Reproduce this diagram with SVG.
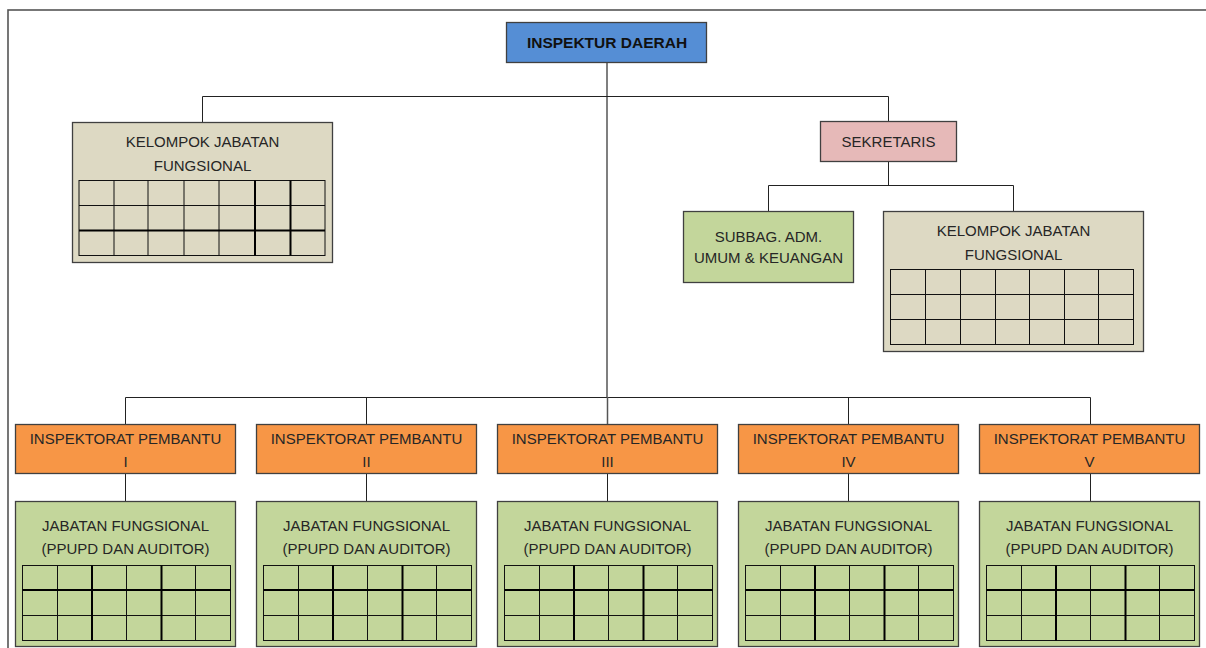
<svg xmlns="http://www.w3.org/2000/svg" xmlns:xlink="http://www.w3.org/1999/xlink" width="1206" height="648" viewBox="0 0 1206 648">
<style>
.t{font-family:"Liberation Sans",Arial,sans-serif;font-size:15px;fill:#262626;text-anchor:middle}
.b{font-weight:bold;font-size:15.5px;fill:#111}
.box{stroke:#404040;stroke-width:1.3}
.blue{fill:#558ed5}
.pink{fill:#e6b9b8}
.tan{fill:#ddd9c3}
.green{fill:#c3d69b}
.orange{fill:#f79646}
.grid{fill:none;stroke:#111;stroke-width:1}
.gridk{fill:none;stroke:#000;stroke-width:2}
.con{fill:none;stroke:#222;stroke-width:1}
.main{fill:none;stroke:#555;stroke-width:1.5}
</style>
<defs>
<g id="ggrid">
<rect class="grid" x="7.5" y="565.5" width="208" height="75"/>
<path class="grid" d="M42.5 565.5V640.5M111.5 565.5V640.5M180.5 565.5V640.5M7.5 615.5H215.5"/>
<path class="gridk" d="M77 565.5V640.5M146.5 565.5V640.5M7.5 590H215.5"/>
</g>
</defs>
<rect width="1206" height="648" fill="#fff"/>
<rect x="8" y="10" width="1300" height="700" fill="none" stroke="#555" stroke-width="1.6"/>

<g id="connectors">
<path class="main" d="M607 62V397"/>
<path class="con" d="M202.5 122V96.5H888.5V121"/>
<path class="con" d="M888.5 161V185.5"/>
<path class="con" d="M768.5 211V185.5H1013.5V211"/>
<path class="con" d="M125.5 424V397.5H1090.5V424"/>
<path class="con" d="M366.5 397.5V424M848.5 397.5V424"/>
<path class="main" d="M607.5 397V424"/>
<path class="con" d="M125.5 474V501M366.5 474V501M607.5 474V501M848.5 474V501M1090.5 474V501"/>
</g>

<g id="inspektur">
<rect class="box blue" x="506.5" y="22.5" width="200" height="40"/>
<text class="t b" x="607" y="48">INSPEKTUR DAERAH</text>
</g>

<g id="kelompok-kiri">
<rect class="box tan" x="72.5" y="122.5" width="260" height="140"/>
<text class="t" x="202.5" y="147">KELOMPOK JABATAN</text>
<text class="t" x="202.5" y="171">FUNGSIONAL</text>
<rect class="grid" x="79" y="180.5" width="246" height="75"/>
<path class="grid" d="M114 180.5V255.5M148 180.5V255.5M184 180.5V255.5M219 180.5V255.5M79 205.5H325"/>
<path class="gridk" d="M255 180.5V255.5M290.5 180.5V255.5M79 230.5H325"/>
</g>

<g id="sekretaris">
<rect class="box pink" x="820.5" y="121.5" width="136" height="40"/>
<text class="t" x="888.5" y="147">SEKRETARIS</text>
</g>

<g id="subbag">
<rect class="box green" x="683.5" y="211.5" width="170" height="71"/>
<text class="t" x="768.5" y="241.5">SUBBAG. ADM.</text>
<text class="t" x="768.5" y="263">UMUM &amp; KEUANGAN</text>
</g>

<g id="kelompok-kanan">
<rect class="box tan" x="883.5" y="211.5" width="260" height="140"/>
<text class="t" x="1013.5" y="236">KELOMPOK JABATAN</text>
<text class="t" x="1013.5" y="260">FUNGSIONAL</text>
<rect class="grid" x="890.5" y="269.5" width="243" height="75"/>
<path class="grid" d="M925.5 269.5V344.5M960.5 269.5V344.5M995.5 269.5V344.5M1029.5 269.5V344.5M1064.5 269.5V344.5M1098.5 269.5V344.5M890.5 294.5H1133.5M890.5 319.5H1133.5"/>
</g>

<g id="irban-1" transform="translate(15,0)">
<rect class="box orange" x="0.5" y="424.5" width="220" height="49"/>
<text class="t" x="110.5" y="444">INSPEKTORAT PEMBANTU</text>
<text class="t" x="110.5" y="466.5">I</text>
</g>
<g id="jf-1" transform="translate(15,0)">
<rect class="box green" x="0.5" y="501.5" width="220" height="145"/>
<text class="t" x="110.5" y="531">JABATAN FUNGSIONAL</text>
<text class="t" x="110.5" y="554">(PPUPD DAN AUDITOR)</text>
<use xlink:href="#ggrid"/>
</g>

<g id="irban-2" transform="translate(256,0)">
<rect class="box orange" x="0.5" y="424.5" width="220" height="49"/>
<text class="t" x="110.5" y="444">INSPEKTORAT PEMBANTU</text>
<text class="t" x="110.5" y="466.5">II</text>
</g>
<g id="jf-2" transform="translate(256,0)">
<rect class="box green" x="0.5" y="501.5" width="220" height="145"/>
<text class="t" x="110.5" y="531">JABATAN FUNGSIONAL</text>
<text class="t" x="110.5" y="554">(PPUPD DAN AUDITOR)</text>
<use xlink:href="#ggrid"/>
</g>

<g id="irban-3" transform="translate(497,0)">
<rect class="box orange" x="0.5" y="424.5" width="220" height="49"/>
<text class="t" x="110.5" y="444">INSPEKTORAT PEMBANTU</text>
<text class="t" x="110.5" y="466.5">III</text>
</g>
<g id="jf-3" transform="translate(497,0)">
<rect class="box green" x="0.5" y="501.5" width="220" height="145"/>
<text class="t" x="110.5" y="531">JABATAN FUNGSIONAL</text>
<text class="t" x="110.5" y="554">(PPUPD DAN AUDITOR)</text>
<use xlink:href="#ggrid"/>
</g>

<g id="irban-4" transform="translate(738,0)">
<rect class="box orange" x="0.5" y="424.5" width="220" height="49"/>
<text class="t" x="110.5" y="444">INSPEKTORAT PEMBANTU</text>
<text class="t" x="110.5" y="466.5">IV</text>
</g>
<g id="jf-4" transform="translate(738,0)">
<rect class="box green" x="0.5" y="501.5" width="220" height="145"/>
<text class="t" x="110.5" y="531">JABATAN FUNGSIONAL</text>
<text class="t" x="110.5" y="554">(PPUPD DAN AUDITOR)</text>
<use xlink:href="#ggrid"/>
</g>

<g id="irban-5" transform="translate(979,0)">
<rect class="box orange" x="0.5" y="424.5" width="220" height="49"/>
<text class="t" x="110.5" y="444">INSPEKTORAT PEMBANTU</text>
<text class="t" x="110.5" y="466.5">V</text>
</g>
<g id="jf-5" transform="translate(979,0)">
<rect class="box green" x="0.5" y="501.5" width="220" height="145"/>
<text class="t" x="110.5" y="531">JABATAN FUNGSIONAL</text>
<text class="t" x="110.5" y="554">(PPUPD DAN AUDITOR)</text>
<use xlink:href="#ggrid"/>
</g>
</svg>
